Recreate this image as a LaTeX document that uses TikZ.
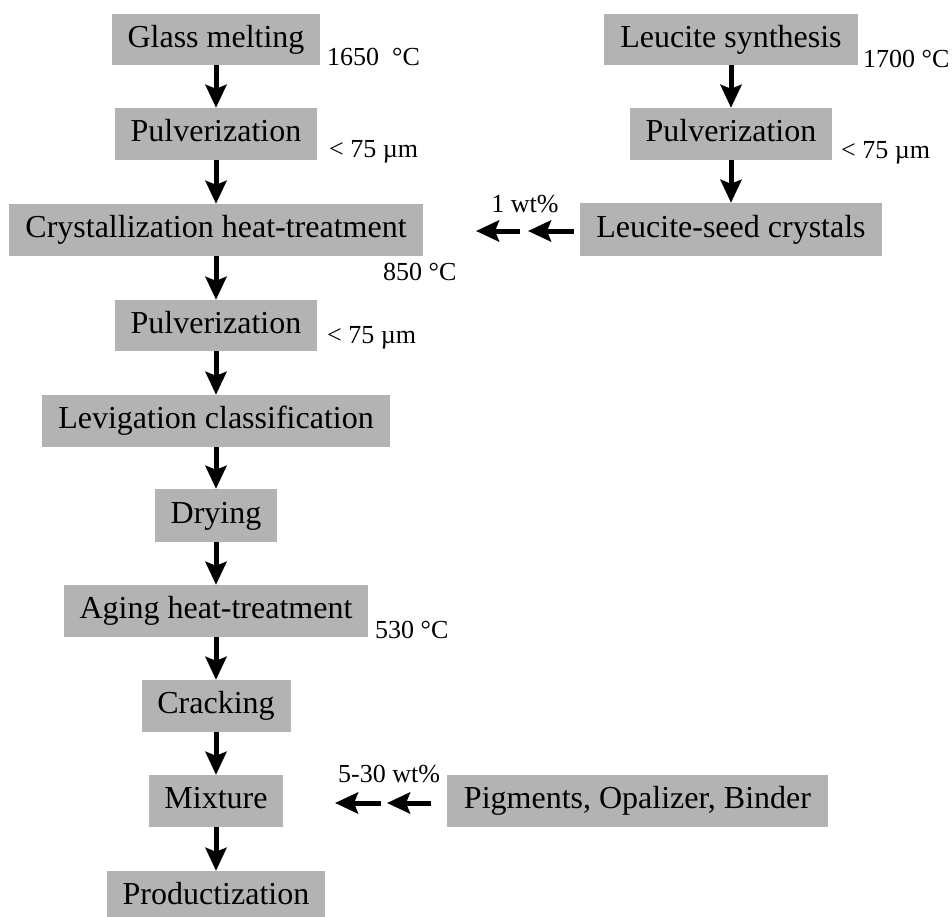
\documentclass[tikz,border=0pt]{standalone}
\usepackage{fontspec}
\setmainfont{Liberation Serif}
\usetikzlibrary{arrows.meta}
\definecolor{boxgray}{HTML}{B3B3B3}
\tikzset{
  stepbox/.style={fill=boxgray, inner sep=0pt, minimum height=52pt, text height=22pt, text depth=7pt, font=\fontsize{32}{38}\selectfont},
  lbl/.style={inner sep=0pt, font=\fontsize{26}{31}\selectfont},
  arr/.style={line width=5pt, -{Stealth[length=23pt,width=21pt,inset=4pt]}}
}
\begin{document}
\begin{tikzpicture}[x=1pt,y=-1pt]
\useasboundingbox (0,0) rectangle (952,916);
% left column
\node[stepbox, minimum width=208pt, minimum height=51pt] (gm) at (216,39.5) {Glass melting};
\node[stepbox, minimum width=202pt] (p1) at (216,134) {Pulverization};
\node[stepbox, minimum width=414pt] (ct) at (216,230) {Crystallization heat-treatment};
\node[stepbox, minimum width=202pt, minimum height=51pt] (p2) at (216,325.5) {Pulverization};
\node[stepbox, minimum width=348pt] (lc) at (216,421) {Levigation classification};
\node[stepbox, minimum width=122pt, minimum height=53pt] (dr) at (216,515.5) {Drying};
\node[stepbox, minimum width=304pt] (ah) at (216,611) {Aging heat-treatment};
\node[stepbox, minimum width=149pt] (cr) at (216,706) {Cracking};
\node[stepbox, minimum width=134pt] (mx) at (216,801) {Mixture};
\node[stepbox, minimum width=218pt] (pr) at (216,897) {Productization};
% right column
\node[stepbox, minimum width=254pt, minimum height=51pt] (ls) at (731,39.5) {Leucite synthesis};
\node[stepbox, minimum width=202pt] (pR) at (731,134) {Pulverization};
\node[stepbox, minimum width=302pt, minimum height=53pt] (sc) at (731,229.5) {Leucite-seed crystals};
\node[stepbox, minimum width=381pt] (pg) at (637.5,801) {Pigments, Opalizer, Binder};
% labels
\node[lbl, anchor=base west] (t1) at (327,65) {1650\ \ °C};
\node[lbl, anchor=base west] (t2) at (863,67) {1700 °C};
\node[lbl, anchor=base west] (t3) at (329,157) {< 75 µm};
\node[lbl, anchor=base west] (t4) at (841,158) {< 75 µm};
\node[lbl, anchor=base west] (t5) at (383,280) {850 °C};
\node[lbl, anchor=base west] (t6) at (327,343) {< 75 µm};
\node[lbl, anchor=base west] (t7) at (375,638) {530 °C};
\node[lbl, anchor=base] (t8) at (525,212) {1 wt\%};
\node[lbl, anchor=base] (t9) at (389,782) {5-30 wt\%};
% vertical arrows
\draw[arr] (gm.south) -- (p1.north);
\draw[arr] (p1.south) -- (ct.north);
\draw[arr] (ct.south) -- (p2.north);
\draw[arr] (p2.south) -- (lc.north);
\draw[arr] (lc.south) -- (dr.north);
\draw[arr] (dr.south) -- (ah.north);
\draw[arr] (ah.south) -- (cr.north);
\draw[arr] (cr.south) -- (mx.north);
\draw[arr] (mx.south) -- (pr.north);
\draw[arr] (ls.south) -- (pR.north);
\draw[arr] (pR.south) -- (sc.north);
% horizontal double arrows
\coordinate (a1s) at (574,231);
\coordinate (a1e) at (528,231);
\coordinate (a2s) at (520,231);
\coordinate (a2e) at (476,231);
\draw[arr] (a1s) -- (a1e);
\draw[arr] (a2s) -- (a2e);
\coordinate (b1s) at (431,803);
\coordinate (b1e) at (387,803);
\coordinate (b2s) at (381,803);
\coordinate (b2e) at (335,803);
\draw[arr] (b1s) -- (b1e);
\draw[arr] (b2s) -- (b2e);
\end{tikzpicture}
\end{document}
